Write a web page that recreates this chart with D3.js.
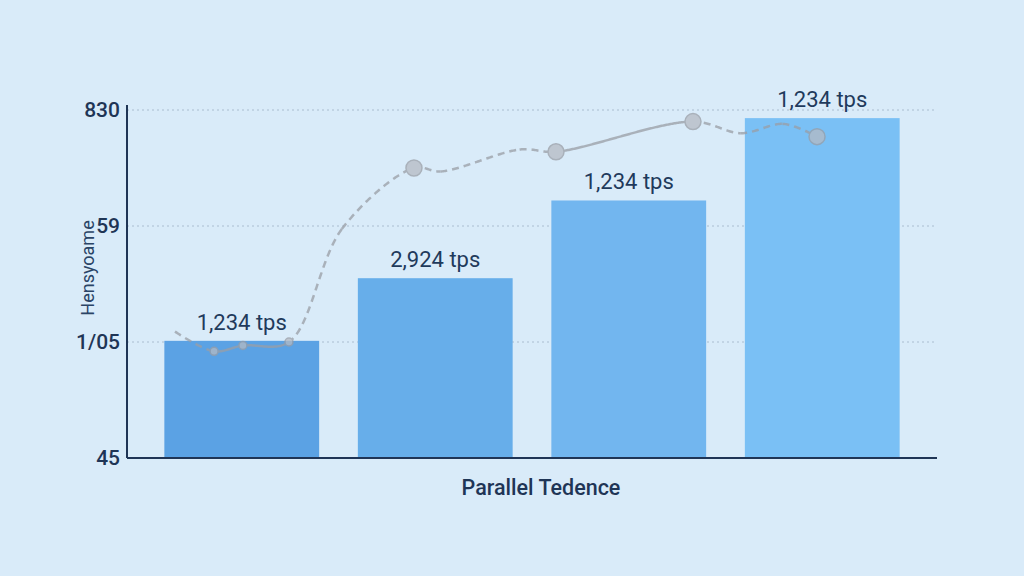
<!DOCTYPE html>
<html>
<head>
<meta charset="utf-8">
<script src="https://cdn.jsdelivr.net/npm/d3@7"></script>
<style>
  html, body { margin: 0; padding: 0; background: #d9ebf9; }
  svg { display: block; }
</style>
</head>
<body>
<svg id="chart"></svg>
<script>
// Data
const categories = ['A', 'B', 'C', 'D'];
const bar_values = [1.01, 1.55, 2.22, 2.93];
const bar_labels = ['1,234 tps', '2,924 tps', '1,234 tps', '1,234 tps'];
const bar_colors = ['#5ba2e4', '#67aeea', '#72b6ef', '#7ac0f5'];

const y_tick_values = [0, 1, 2, 3];
const y_tick_labels = ['45', '1/05', '59', '830'];

// trend line, x in category units (0 = left edge of the band range)
const line_x = [0.155, 0.357, 0.506, 0.744, 1.02, 1.39, 1.53, 1.94, 2.124, 2.832, 3.08, 3.3, 3.473];
const line_y = [1.09, 0.92, 0.97, 1.0, 1.98, 2.5, 2.47, 2.66, 2.64, 2.9, 2.8, 2.88, 2.77];
const line_solid = [false, true, true, false, false, false, false, false, true, false, false, false];
const marker_idx = [1, 2, 3, 5, 8, 9, 12];
const marker_size = [4, 4, 4, 8, 8, 8, 8];

const width = 1024, height = 576;
const margin = {left: 127, right: 87, top: 110, bottom: 118};

const svg = d3.select('#chart')
    .attr('width', width)
    .attr('height', height);

svg.append('rect')
    .attr('width', width).attr('height', height)
    .attr('fill', '#d9ebf9');

const x = d3.scaleBand()
    .domain(categories)
    .range([145, 919])
    .paddingInner(0.2)
    .paddingOuter(0.1);

const xLin = d3.scaleLinear()
    .domain([0, 4])
    .range([145, 919]);

const y = d3.scaleLinear()
    .domain([0, 3])
    .range([height - margin.bottom, margin.top]);

// gridlines
svg.append('g')
    .selectAll('line')
    .data(y_tick_values.slice(1))
    .join('line')
    .attr('x1', margin.left)
    .attr('x2', width - margin.right)
    .attr('y1', d => y(d))
    .attr('y2', d => y(d))
    .attr('stroke', '#aabdd0')
    .attr('stroke-width', 1)
    .attr('stroke-dasharray', '2,3');

// bars
svg.append('g')
    .selectAll('rect')
    .data(bar_values)
    .join('rect')
    .attr('x', (d, i) => x(categories[i]))
    .attr('y', d => y(d))
    .attr('width', x.bandwidth())
    .attr('height', d => y(0) - y(d))
    .attr('fill', (d, i) => bar_colors[i]);

// trend line, drawn segment by segment so some parts can be solid
const pts = line_x.map((v, i) => [xLin(v), y(line_y[i])]);
const curve = d3.line().curve(d3.curveCatmullRom.alpha(0.5));
const lineG = svg.append('g').attr('opacity', 0.75);

const full = lineG.append('path')
    .attr('d', curve(pts))
    .attr('fill', 'none')
    .attr('stroke', 'none');

// find the path length at each data point
const node = full.node();
const total = node.getTotalLength();
let lengths = [0];
{
    let k = 1, step = 0.5;
    for (let l = 0; l <= total && k < pts.length; l += step) {
        const p = node.getPointAtLength(l);
        if (Math.hypot(p.x - pts[k][0], p.y - pts[k][1]) < 1.2) {
            lengths.push(l);
            k++;
        }
    }
    while (lengths.length < pts.length) lengths.push(total);
}

line_solid.forEach((solid, i) => {
    const l0 = lengths[i], l1 = lengths[i + 1];
    const seg = d3.range(l0, l1, 1).concat([l1]).map(l => {
        const p = node.getPointAtLength(l);
        return [p.x, p.y];
    });
    lineG.append('path')
        .attr('d', d3.line()(seg))
        .attr('fill', 'none')
        .attr('stroke', '#9a9ea6')
        .attr('stroke-width', 2.5)
        .attr('stroke-dasharray', solid ? null : '7,5');
});

lineG.selectAll('circle')
    .data(marker_idx)
    .join('circle')
    .attr('cx', d => pts[d][0])
    .attr('cy', d => pts[d][1])
    .attr('r', (d, i) => marker_size[i])
    .attr('fill', '#b5bac3')
    .attr('stroke', '#9a9ea6')
    .attr('stroke-width', 1.5);

// bar labels
svg.append('g')
    .selectAll('text')
    .data(bar_values)
    .join('text')
    .attr('x', (d, i) => x(categories[i]) + x.bandwidth() / 2)
    .attr('y', d => y(d) - 11)
    .attr('text-anchor', 'middle')
    .attr('font-family', 'Roboto, sans-serif')
    .attr('font-size', 22)
    .attr('fill', '#1f3a5c')
    .text((d, i) => bar_labels[i]);

// axes
const yAxis = d3.axisLeft(y)
    .tickValues(y_tick_values)
    .tickFormat((d, i) => y_tick_labels[i])
    .tickSize(0)
    .tickPadding(7);

const yG = svg.append('g')
    .attr('transform', `translate(${margin.left}, 0)`)
    .call(yAxis);

yG.select('.domain')
    .attr('stroke', '#1f3556')
    .attr('stroke-width', 2)
    .attr('d', `M0,${margin.top - 5}V${y(0)}`);

yG.selectAll('.tick text')
    .attr('font-family', 'Roboto, sans-serif')
    .attr('font-size', 21)
    .attr('font-weight', 500)
    .attr('fill', '#1f3556');

const xAxis = d3.axisBottom(x).tickSize(0).tickFormat('');
const xG = svg.append('g')
    .attr('transform', `translate(0, ${y(0)})`)
    .call(xAxis);

xG.select('.domain')
    .attr('stroke', '#1f3556')
    .attr('stroke-width', 2)
    .attr('d', `M${margin.left},0H${width - margin.right}`);

// axis titles
svg.append('text')
    .attr('x', 541)
    .attr('y', 495)
    .attr('text-anchor', 'middle')
    .attr('font-family', 'Roboto, sans-serif')
    .attr('font-size', 21.5)
    .attr('font-weight', 500)
    .attr('fill', '#1f3556')
    .text('Parallel Tedence');

svg.append('text')
    .attr('transform', `translate(94, 268) rotate(-90)`)
    .attr('text-anchor', 'middle')
    .attr('font-family', 'Roboto, sans-serif')
    .attr('font-size', 18)
    .attr('fill', '#2a4466')
    .text('Hensyoame');
</script>
</body>
</html>
